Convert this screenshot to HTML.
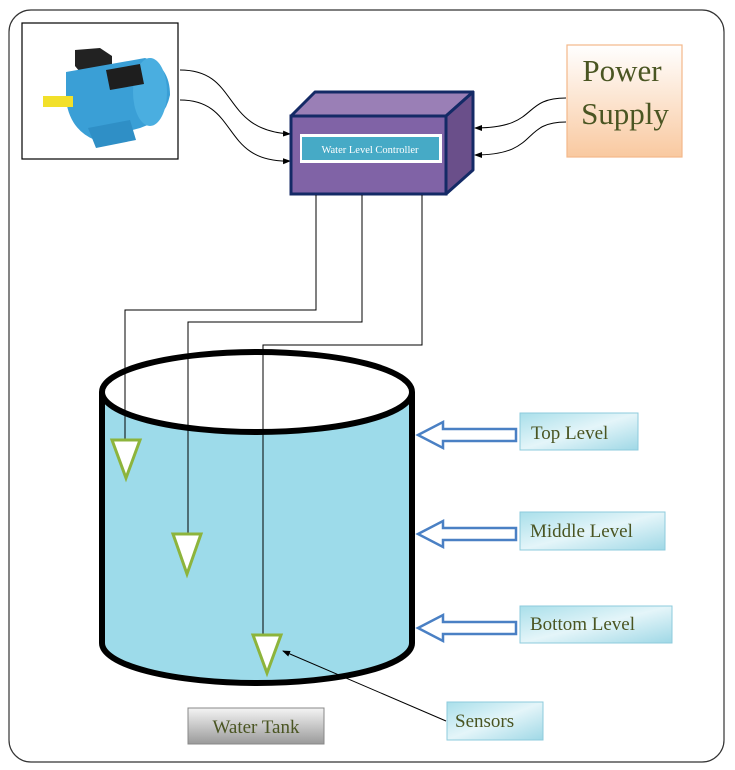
<!DOCTYPE html>
<html><head><meta charset="utf-8"><style>
body{margin:0;background:#fff;}
svg{display:block;}
text{font-family:"Liberation Serif",serif;}
</style></head><body>
<svg width="735" height="770" viewBox="0 0 735 770" xmlns="http://www.w3.org/2000/svg">
<defs>
<linearGradient id="ps" x1="0" y1="0" x2="0" y2="1"><stop offset="0" stop-color="#fff"/><stop offset="1" stop-color="#f9c9a0"/></linearGradient>
<linearGradient id="lb" x1="0" y1="0" x2="1" y2="1"><stop offset="0" stop-color="#a9dfea"/><stop offset="0.5" stop-color="#e4f5f9"/><stop offset="1" stop-color="#9fd8e6"/></linearGradient>
<linearGradient id="gr" x1="0" y1="0" x2="0" y2="1"><stop offset="0" stop-color="#f4f4f4"/><stop offset="1" stop-color="#9a9a9a"/></linearGradient>
<marker id="ah" markerWidth="8" markerHeight="8" refX="7" refY="4" orient="auto" markerUnits="userSpaceOnUse"><path d="M0,1 L8,4 L0,7 z" fill="#000"/></marker>
</defs>
<rect x="9" y="10" width="715" height="752" rx="22" fill="#fff" stroke="#333" stroke-width="1.2"/>
<!-- motor -->
<rect x="22" y="23" width="156" height="136" fill="#fff" stroke="#000" stroke-width="1.2"/>
<g>
<polygon points="75,50 100,48 112,56 112,68 80,72 75,66" fill="#222"/>
<path d="M66,72 L145,58 Q170,66 170,95 Q165,120 140,128 L95,140 Q70,130 66,100z" fill="#3a9fd6"/>
<ellipse cx="150" cy="92" rx="17" ry="34" fill="#4aaee0"/>
<polygon points="106,70 140,64 144,84 110,90" fill="#1e1e1e"/>
<polygon points="88,128 130,120 136,140 96,148" fill="#2f8fc6"/>
<rect x="43" y="96" width="30" height="11" fill="#f2e02a"/>
</g>
<!-- wires motor->controller -->
<path d="M180,70 C240,70 220,130 290,134" fill="none" stroke="#000" stroke-width="1" marker-end="url(#ah)"/>
<path d="M180,100 C240,100 220,163 290,161" fill="none" stroke="#000" stroke-width="1" marker-end="url(#ah)"/>
<!-- power -->
<rect x="567" y="45" width="115" height="112" fill="url(#ps)" stroke="#f3b88a" stroke-width="1.2"/>
<text x="622" y="81" font-size="31" fill="#4a5522" text-anchor="middle">Power</text>
<text x="625" y="124" font-size="31" fill="#4a5522" text-anchor="middle">Supply</text>
<path d="M566,98 C520,98 540,128 475,128" fill="none" stroke="#000" stroke-width="1" marker-end="url(#ah)"/>
<path d="M566,122 C520,122 540,155 475,155" fill="none" stroke="#000" stroke-width="1" marker-end="url(#ah)"/>
<!-- controller -->
<polygon points="291,116 315,92 473,92 446,116" fill="#9a7fb6" stroke="#142a66" stroke-width="3" stroke-linejoin="round"/>
<polygon points="446,116 473,92 473,170 446,194" fill="#6a4f8a" stroke="#142a66" stroke-width="3" stroke-linejoin="round"/>
<rect x="291" y="116" width="155" height="78" fill="#8063a6" stroke="#142a66" stroke-width="3"/>
<rect x="300" y="134" width="142" height="29" fill="#fff"/>
<rect x="302" y="137" width="137" height="23" fill="#46aac6"/>
<text x="370" y="153" font-size="10.5" fill="#fff" text-anchor="middle">Water Level Controller</text>
<!-- sensor wires -->
<polyline points="316,195 316,310 125,310 125,440" fill="none" stroke="#000" stroke-width="1"/>
<polyline points="362,195 362,322 188,322 188,533" fill="none" stroke="#000" stroke-width="1"/>
<polyline points="422,195 422,345 263,345 263,634" fill="none" stroke="#000" stroke-width="1"/>
<!-- tank -->
<path d="M102,392 L102,643 A155,40 0 0 0 412,643 L412,392" fill="#9ddbea" stroke="#000" stroke-width="6"/>
<ellipse cx="257" cy="392" rx="155" ry="40" fill="#fff" stroke="#000" stroke-width="6"/>
<line x1="125" y1="310" x2="125" y2="440" stroke="#000" stroke-width="1"/>
<line x1="188" y1="322" x2="188" y2="533" stroke="#000" stroke-width="1"/>
<line x1="263" y1="345" x2="263" y2="634" stroke="#000" stroke-width="1"/>
<polygon points="112,440 140,440 126,478" fill="#fff" stroke="#8db43c" stroke-width="3"/>
<polygon points="173,534 201,534 187,574" fill="#fff" stroke="#8db43c" stroke-width="3"/>
<polygon points="253,635 281,635 267,673" fill="#fff" stroke="#8db43c" stroke-width="3"/>
<!-- level arrows -->
<g fill="#fff" stroke="#4a80c4" stroke-width="2.5">
<polygon points="418,435 443,422 443,429 516,429 516,441 443,441 443,448"/>
<polygon points="418,534 443,521 443,528 516,528 516,540 443,540 443,547"/>
<polygon points="418,628 443,615 443,622 516,622 516,634 443,634 443,641"/>
</g>
<g stroke="#8ecbdc" stroke-width="1">
<rect x="520" y="413" width="118" height="37" fill="url(#lb)"/>
<rect x="520" y="512" width="145" height="38" fill="url(#lb)"/>
<rect x="520" y="606" width="152" height="37" fill="url(#lb)"/>
<rect x="447" y="702" width="96" height="38" fill="url(#lb)"/>
</g>
<g font-size="19" fill="#4a5522">
<text x="531" y="439">Top Level</text>
<text x="530" y="537">Middle Level</text>
<text x="530" y="630">Bottom Level</text>
<text x="455" y="727">Sensors</text>
</g>
<line x1="446" y1="721" x2="283" y2="651" stroke="#000" stroke-width="1" marker-end="url(#ah)"/>
<rect x="188" y="708" width="136" height="36" fill="url(#gr)" stroke="#888" stroke-width="1"/>
<text x="256" y="733" font-size="19" fill="#4a5522" text-anchor="middle">Water Tank</text>
</svg>
</body></html>
